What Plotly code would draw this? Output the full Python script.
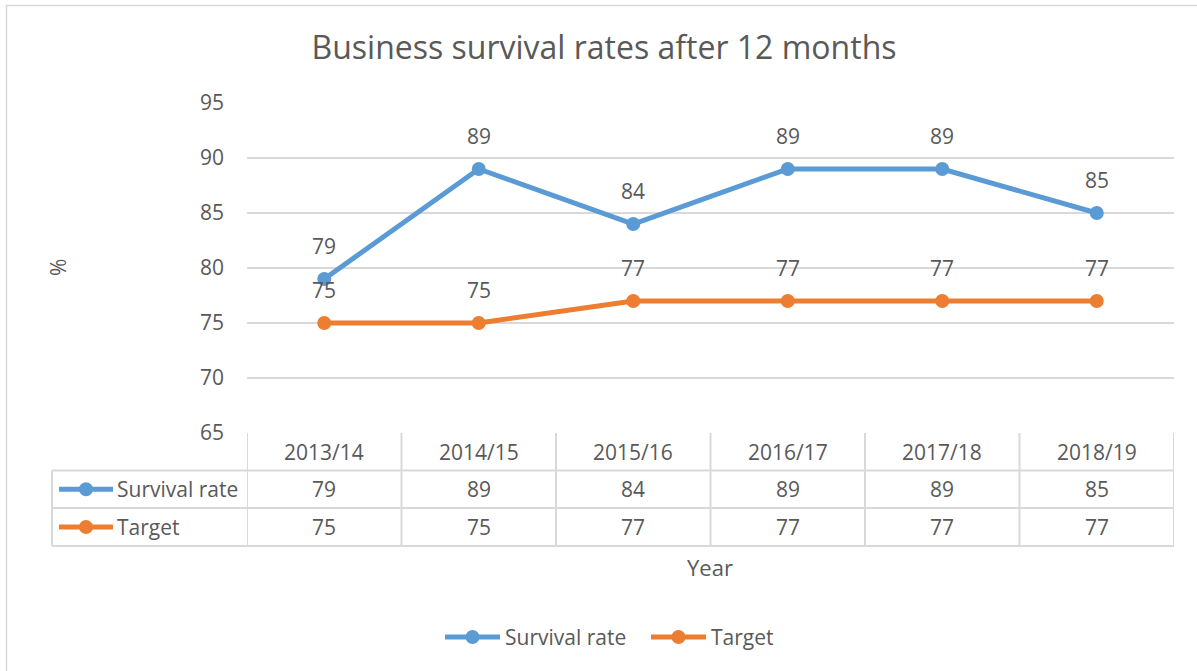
import plotly.graph_objects as go

years = ["2013/14", "2014/15", "2015/16", "2016/17", "2017/18", "2018/19"]
survival_rate = [79, 89, 84, 89, 89, 85]
target = [75, 75, 77, 77, 77, 77]
series_names = ["Survival rate", "Target"]
y_ticks = [65, 70, 75, 80, 85, 90, 95]

BLUE = "#5B9BD5"
ORANGE = "#ED7D31"
TXT = "#595959"
GRID = "#D9D9D9"
FONT = "Open Sans"
FS = 21

W, H = 1197, 671
SL, SR, ST, SB = 247, 1174, 103, 433  # plot area in pixels
L, R, T, B = SL, SR, ST, SB


def px(x):
    return (x - SL) / (SR - SL)


def py(y):
    return (SB - y) / (SB - ST)


fig = go.Figure()
series = [(series_names[0], survival_rate, BLUE), (series_names[1], target, ORANGE)]
for name, vals, col in series:
    fig.add_trace(go.Scatter(
        x=years, y=vals, name=name, mode="lines+markers",
        line=dict(color=col, width=5),
        marker=dict(color=col, size=14),
        hoverinfo="skip", showlegend=False,
    ))

annotations = []
# data labels
for name, vals, col in series:
    for c, v in zip(years, vals):
        annotations.append(dict(x=c, y=v, xref="x", yref="y", text=str(v), showarrow=False,
                                xanchor="center", yanchor="middle",
                                yshift=33, font=dict(family=FONT, size=FS, color=TXT)))

shapes = []


def key(x0, x1, yc, col):
    shapes.append(dict(type="line", xref="paper", yref="paper", x0=px(x0), x1=px(x1), y0=yc, y1=yc,
                       line=dict(color=col, width=5)))
    xm = (x0 + x1) / 2
    shapes.append(dict(type="circle", xref="paper", yref="paper", fillcolor=col, line=dict(color=col, width=0),
                       x0=px(xm - 7), x1=px(xm + 7), y0=yc - 7 / (SB - ST), y1=yc + 7 / (SB - ST)))


rows = [433, 470.5, 508, 546]
tbl_left = 52
lw = 2
for r in rows[1:]:
    shapes.append(dict(type="line", xref="paper", yref="paper", x0=px(tbl_left), x1=1, y0=py(r), y1=py(r),
                       line=dict(color=GRID, width=lw)))
shapes.append(dict(type="line", xref="paper", yref="paper", x0=px(tbl_left), x1=px(tbl_left), y0=py(rows[1]),
                   y1=py(rows[3]), line=dict(color=GRID, width=lw)))
for i in range(len(years) + 1):
    shapes.append(dict(type="line", xref="x", yref="paper", x0=i - 0.5, x1=i - 0.5, y0=py(rows[0]), y1=py(rows[3]),
                       line=dict(color=GRID, width=lw)))

# header row
for c in years:
    annotations.append(dict(x=c, y=py((rows[0] + rows[1]) / 2), xref="x", yref="paper", text=c, showarrow=False,
                            xanchor="center", yanchor="middle", font=dict(family=FONT, size=FS, color=TXT)))
# data rows
for r, (name, vals, col) in enumerate(series):
    yc = py((rows[r + 1] + rows[r + 2]) / 2)
    for c, v in zip(years, vals):
        annotations.append(dict(x=c, y=yc, xref="x", yref="paper", text=str(v), showarrow=False,
                                xanchor="center", yanchor="middle", font=dict(family=FONT, size=FS, color=TXT)))
    annotations.append(dict(x=px(115), y=yc, xref="paper", yref="paper", text=name, showarrow=False,
                            xanchor="left", yanchor="middle", font=dict(family=FONT, size=FS, color=TXT)))
    key(59, 113, yc, col)

# bottom legend
leg_y = py(637)
leg_items = [(series_names[0], BLUE, 445), (series_names[1], ORANGE, 651)]
for name, col, x0 in leg_items:
    key(x0, x0 + 55, leg_y, col)
    annotations.append(dict(x=px(x0 + 58), y=leg_y, xref="paper", yref="paper", text=name, showarrow=False,
                            xanchor="left", yanchor="middle", font=dict(family=FONT, size=FS, color=TXT)))

# outer border
shapes.append(dict(type="rect", xref="paper", yref="paper", x0=px(6.5), x1=px(1220), y0=py(5.5), y1=py(700),
                   line=dict(color=GRID, width=1.5), layer="below"))

# axis titles
annotations.append(dict(x=px(58), y=py(268), xref="paper", yref="paper", text="%", textangle=-90, showarrow=False,
                        xanchor="center", yanchor="middle", font=dict(family=FONT, size=FS, color=TXT)))
annotations.append(dict(x=px(710), y=py(567), xref="paper", yref="paper", text="Year", showarrow=False,
                        xanchor="center", yanchor="middle", font=dict(family=FONT, size=22, color=TXT)))

fig.update_layout(
    width=W, height=H,
    margin=dict(l=L, r=W - R, t=T, b=H - B, autoexpand=False),
    paper_bgcolor="white", plot_bgcolor="white",
    title=dict(text="Business survival rates after 12 months", x=604 / W, xref="container",
               xanchor="center", y=1 - 48 / H, yref="container", yanchor="middle",
               font=dict(family=FONT, size=32, color=TXT)),
    xaxis=dict(type="category", range=[-0.5, len(years) - 0.5], showticklabels=False, showgrid=False,
               zeroline=False, showline=False, ticks=""),
    yaxis=dict(range=[y_ticks[0], y_ticks[-1]], tickvals=y_ticks, showgrid=True, gridcolor=GRID, gridwidth=2,
               zeroline=False, showline=False, ticks="", ticklabelstandoff=22,
               tickfont=dict(family=FONT, size=FS, color=TXT)),
    showlegend=False,
    annotations=annotations,
    shapes=shapes,
    font=dict(family=FONT, color=TXT),
)

fig.write_html("out.html", config={"displayModeBar": False},
               post_script="document.body.style.margin='0px';")
